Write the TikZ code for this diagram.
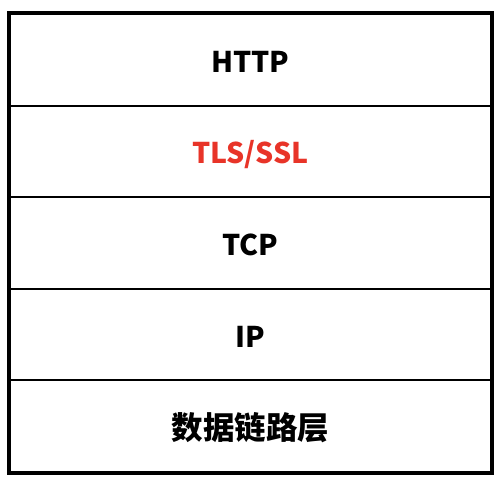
\documentclass[tikz,border=0pt]{standalone}
\usepackage{fontspec}
\usepackage{xcolor}
\usepackage{tikz}
\newfontfamily\cjk{Noto Sans CJK SC}
\definecolor{tlsred}{RGB}{232,52,40}

\begin{document}
\begin{tikzpicture}[node distance=91.6pt,
			layer/.style={draw,line width=2pt,minimum width=480.5pt,minimum height=91.6pt,
				inner sep=0pt,text height=25pt,text depth=0pt,
				font=\cjk\bfseries\fontsize{28.5}{28.5}\selectfont}]
			
			\useasboundingbox (0,0) rectangle (504pt,-482pt);
			
			\node[layer] (http) at (250.25pt,-59.8pt) {HTTP};
			\node[layer] (tls) [below of = http] {\textcolor{tlsred}{TLS/SSL}};
			\node[layer] (tcp) [below of = tls] {TCP};
			\node[layer] (ip) [below of = tcp] {IP};
			\node[layer] (link) [below of = ip, text height=26pt,
				font=\cjk\bfseries\fontsize{31.5}{31.5}\selectfont] {数据链路层};
			
			\draw[line width=4pt] (http.north west) rectangle (link.south east);
		\end{tikzpicture}
\end{document}
